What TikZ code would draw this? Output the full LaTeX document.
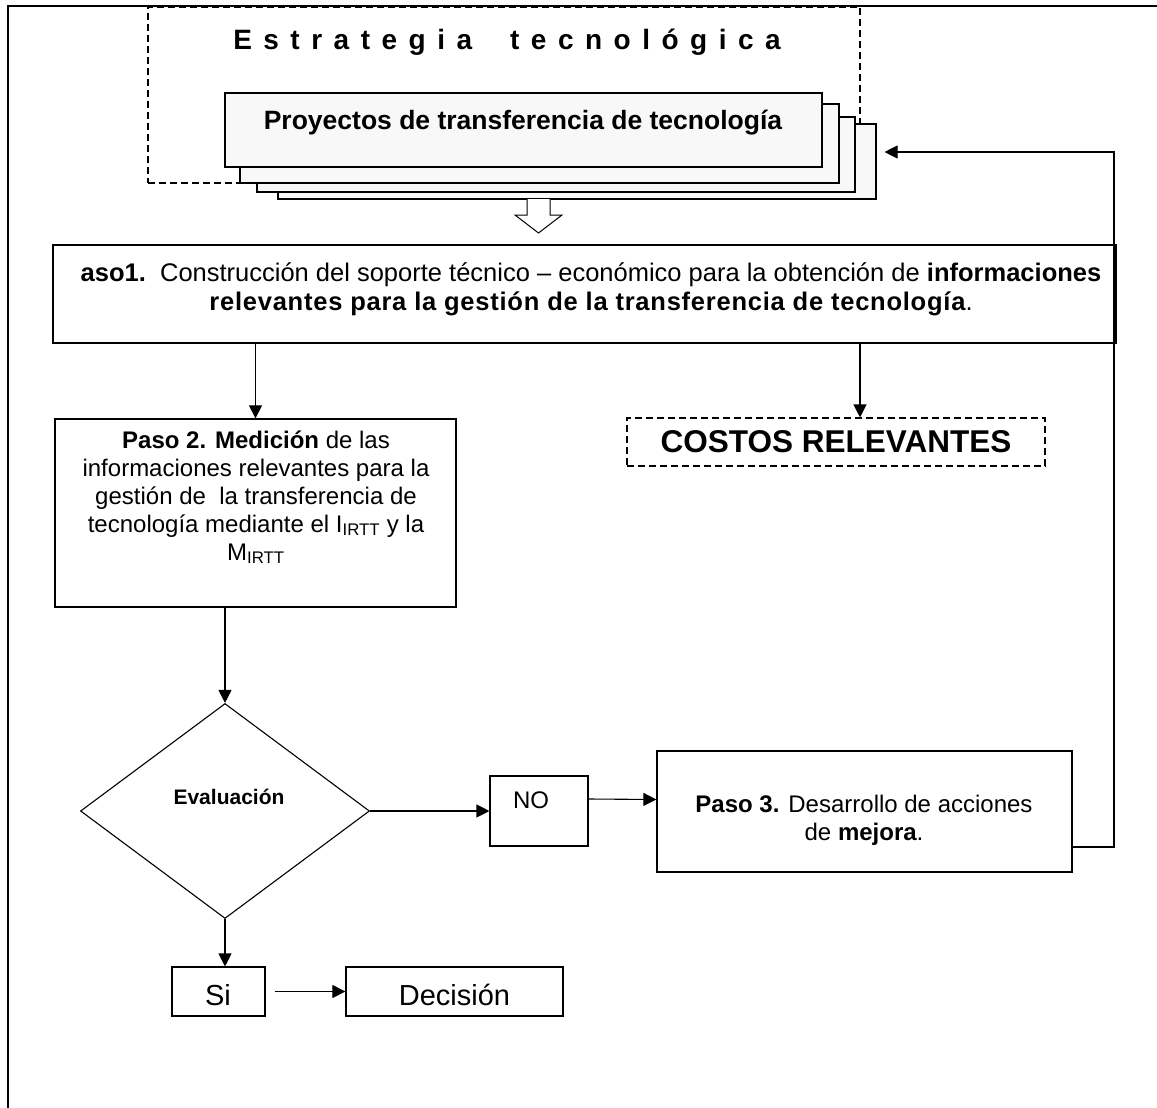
\documentclass[tikz,border=0pt]{standalone}
\usepackage{fontspec}
\setmainfont{Liberation Sans}
\usetikzlibrary{shapes.geometric,arrows.meta,calc}
\definecolor{sheetgray}{RGB}{248,248,248}
% centred multi-line text whose baseline is that of the first line
\newcommand\mltext[1]{\begin{tabular}[t]{@{}c@{}}#1\end{tabular}}
\newcommand\lsp{\hspace{11.5pt}}
\begin{document}
\begin{tikzpicture}[x=1pt,y=-1pt,
  box/.style={draw, line width=1.3pt, inner sep=0pt},
  dashbox/.style={draw, line width=1.1pt, dash pattern=on 7pt off 4pt, inner sep=0pt},
  sheet/.style={draw, line width=1.1pt, fill=sheetgray, inner sep=0pt},
  arr/.style={line width=1.1pt, -{Triangle[length=13pt,width=13pt]}},
  txt/.style={inner sep=0pt, anchor=base, font=\fontsize{24}{28}\selectfont}
]
\useasboundingbox (0,0) rectangle (1157,1108);

% page frame (top and left edges)
\draw[line width=1.6pt] (8,1108) -- (8,6) -- (1157,6);

% technology strategy
\node[dashbox, minimum width=712pt, minimum height=176pt] (estr) at (504,95) {};
\node[inner sep=0pt, anchor=base, font=\bfseries\fontsize{28}{32}\selectfont] (estrt) at (507,50)
  {E\lsp s\lsp t\lsp r\lsp a\lsp t\lsp e\lsp g\lsp i\lsp a\hspace{38pt}t\lsp e\lsp c\lsp n\lsp o\lsp l\lsp ó\lsp g\lsp i\lsp c\lsp a};

% stack of project sheets
\node[sheet, minimum width=598pt, minimum height=75pt] (s4) at (577,161.5) {};
\node[sheet, minimum width=598pt, minimum height=75pt] (s3) at (556,154.5) {};
\node[sheet, minimum width=599pt, minimum height=79pt] (s2) at (539.5,143.5) {};
\node[sheet, minimum width=597pt, minimum height=74pt] (s1) at (523.5,130) {};
\node[inner sep=0pt, anchor=base, font=\bfseries\fontsize{26.5}{30}\selectfont] (proy) at (523,129)
  {Proyectos de transferencia de tecnología};

% hollow block arrow
\draw[line width=1pt, fill=white] (527,199) -- (527,215) -- (515,215) -- (538.5,233)
  -- (562,215) -- (550,215) -- (550,199);

% step 1
\node[box, minimum width=1063pt, minimum height=98pt] (aso) at (584.5,294) {};
\node[inner sep=0pt, anchor=base, font=\fontsize{25.5}{29}\selectfont] (asot) at (591,281)
  {\mltext{\textbf{aso1.}\ \ Construcción del soporte técnico – económico para la obtención de \textbf{informaciones}\\
  {\addfontfeature{LetterSpace=3}\textbf{relevantes para la gestión de la transferencia de tecnología}.}}};

% step 2
\node[box, minimum width=401pt, minimum height=188pt] (p2) at (255.5,513) {};
\node[txt] (p2t) at (256,448) {\mltext{\textbf{Paso 2. Medición} de las\\
  informaciones relevantes para la\\
  gestión de\ \ la transferencia de\\
  tecnología mediante el I\textsubscript{IRTT} y la\\
  M\textsubscript{IRTT}}};

% relevant costs
\node[dashbox, minimum width=418pt, minimum height=48pt, font=\bfseries\fontsize{31.5}{36}\selectfont] (cost) at (836,442) {COSTOS RELEVANTES};
\coordinate (costIn) at ($(cost.north)+(24,0)$);

% evaluation
\node[draw, diamond, line width=1.1pt, minimum width=289pt, minimum height=215pt, inner sep=0pt] (dia) at (225,811) {};
\node[inner sep=0pt, anchor=base, font=\bfseries\fontsize{21}{25}\selectfont] (diat) at (229,804) {Evaluación};

\node[box, line width=1.1pt, minimum width=98pt, minimum height=70pt] (no) at (539,811) {};
\node[txt] (not) at (531,808) {NO};

% step 3
\node[box, minimum width=415pt, minimum height=121pt] (p3) at (864.5,811.5) {};
\node[txt] (p3t) at (864,812) {\mltext{\textbf{Paso 3.} Desarrollo de acciones\\de \textbf{mejora}.}};

% outcome
\node[box, line width=1.1pt, minimum width=93pt, minimum height=49pt] (si) at (218.5,991.5) {};
\node[inner sep=0pt, anchor=base, font=\fontsize{29}{34}\selectfont] (sit) at (218,1005) {Si};
\node[box, minimum width=217pt, minimum height=49pt] (dec) at (454.5,991.5) {};
\node[inner sep=0pt, anchor=base, font=\fontsize{29}{34}\selectfont] (dect) at (454.5,1005) {Decisión};

% connectors
\draw[arr] (aso.south -| p2.north) -- (p2.north);
\draw[arr] (aso.south -| costIn) -- (costIn);
\draw[arr] (p2.south -| dia.north) -- (dia.north);
\draw[arr] (dia.east) -- (no.west);
\draw[arr] ($(no.east)+(0,-12)$) -- ($(p3.west)+(0,-12)$);
\draw[arr] (dia.south) -- (dia.south |- si.north);
\draw[arr, shorten <=9pt] (si.east) -- (dec.west);

% feedback loop back to the projects
\coordinate (fbOut) at ($(p3.east)+(0,35.5)$);
\coordinate (fbIn) at ($(s4.east)+(8,-9.5)$);
\coordinate (fbX) at (1114,0);
\draw[arr] (fbOut) -- (fbOut -| fbX) -- (fbX |- fbIn) -- (fbIn);
\end{tikzpicture}
\end{document}
